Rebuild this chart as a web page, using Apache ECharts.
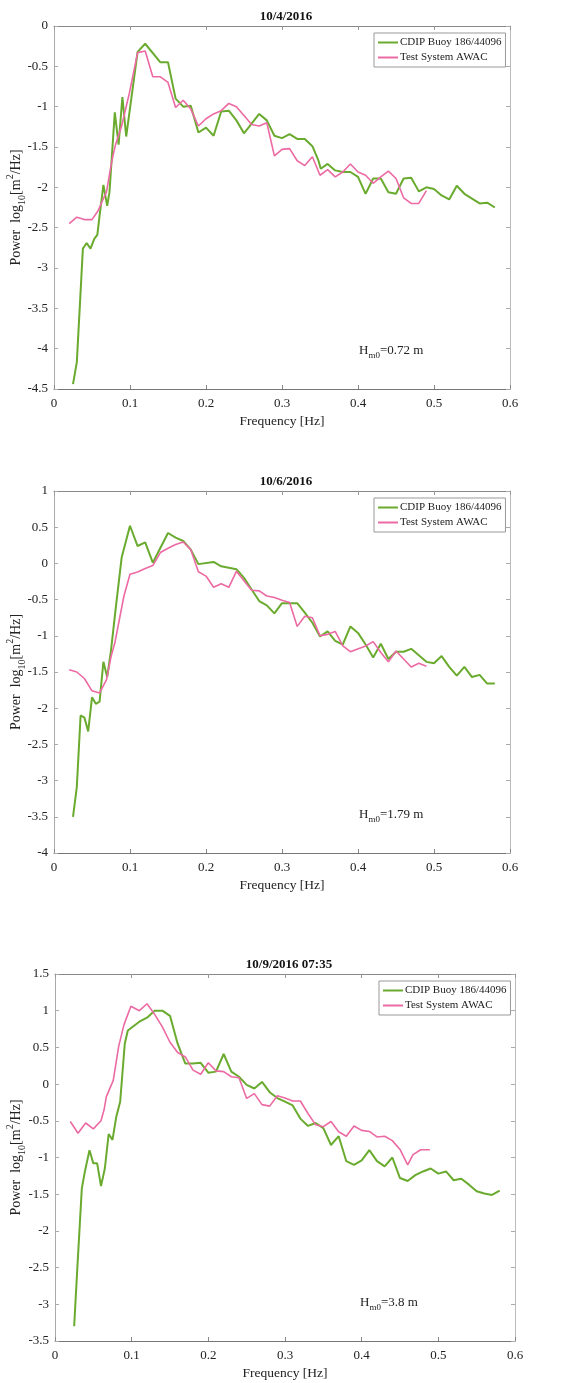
<!DOCTYPE html>
<html>
<head>
<meta charset="utf-8">
<script src="https://cdn.jsdelivr.net/npm/echarts@6/dist/echarts.min.js"></script>
<style>
  html, body { margin: 0; padding: 0; background: #fff; }
  #chart { width: 573px; height: 1383px; }
</style>
</head>
<body>
<div id="chart"></div>
<script>
// chart titles and wave height notes
const titles = ['10/4/2016', '10/6/2016', '10/9/2016 07:35'];
const hm0 = ['=0.72 m', '=1.79 m', '=3.8 m'];
const seriesNames = ['CDIP Buoy 186/44096', 'Test System AWAC'];
const yRanges = [[-4.5, 0], [-4, 1], [-3.5, 1.5]];

// 10/4/2016  [freq Hz, log10 power]
const buoy1 = [[0.025,-4.44],[0.03,-4.17],[0.034,-3.47],[0.038,-2.76],[0.043,-2.69],[0.048,-2.76],[0.053,-2.64],[0.057,-2.59],[0.06,-2.35],[0.065,-1.97],[0.07,-2.23],[0.073,-2.06],
  [0.08,-1.07],[0.085,-1.47],[0.09,-0.88],[0.095,-1.37],[0.11,-0.32],[0.12,-0.22],[0.14,-0.45],[0.15,-0.45],[0.16,-0.9],[0.17,-1.0],[0.18,-0.99],[0.19,-1.32],[0.2,-1.26],
  [0.21,-1.36],[0.22,-1.06],[0.23,-1.05],[0.24,-1.17],[0.25,-1.33],[0.27,-1.09],[0.28,-1.17],[0.29,-1.36],[0.3,-1.39],[0.31,-1.34],[0.32,-1.4],[0.33,-1.4],[0.34,-1.49],
  [0.348,-1.67],[0.351,-1.77],[0.36,-1.71],[0.37,-1.79],[0.38,-1.81],[0.39,-1.81],[0.4,-1.87],[0.41,-2.08],[0.42,-1.89],[0.43,-1.89],[0.44,-2.06],[0.45,-2.08],[0.46,-1.89],
  [0.47,-1.88],[0.48,-2.05],[0.49,-2.0],[0.5,-2.02],[0.51,-2.1],[0.52,-2.15],[0.53,-1.98],[0.54,-2.08],[0.55,-2.14],[0.56,-2.2],[0.57,-2.19],[0.58,-2.25]];
const awac1 = [[0.02,-2.45],[0.03,-2.37],[0.04,-2.4],[0.05,-2.4],[0.058,-2.29],[0.064,-2.16],[0.069,-2.06],[0.075,-1.73],[0.078,-1.59],[0.081,-1.47],[0.089,-1.24],[0.099,-0.84],
  [0.11,-0.33],[0.12,-0.31],[0.13,-0.63],[0.14,-0.63],[0.15,-0.7],[0.16,-1.01],[0.17,-0.92],[0.18,-1.03],[0.19,-1.24],[0.2,-1.15],[0.21,-1.09],[0.22,-1.05],[0.23,-0.96],
  [0.24,-1.0],[0.25,-1.11],[0.26,-1.22],[0.27,-1.24],[0.28,-1.2],[0.29,-1.61],[0.3,-1.53],[0.31,-1.52],[0.32,-1.67],[0.33,-1.73],[0.34,-1.62],[0.35,-1.85],[0.36,-1.78],
  [0.37,-1.87],[0.38,-1.81],[0.39,-1.71],[0.4,-1.81],[0.41,-1.85],[0.42,-1.95],[0.43,-1.87],[0.44,-1.8],[0.45,-1.89],[0.46,-2.13],[0.47,-2.2],[0.48,-2.2],[0.49,-2.04]];

// 10/6/2016
const buoy2 = [[0.025,-3.5],[0.03,-3.09],[0.035,-2.1],[0.04,-2.13],[0.045,-2.32],[0.05,-1.85],[0.055,-1.94],[0.06,-1.91],[0.065,-1.36],[0.07,-1.57],[0.075,-1.2],[0.081,-0.64],
  [0.089,0.08],[0.1,0.52],[0.11,0.24],[0.12,0.29],[0.13,0.01],[0.15,0.42],[0.16,0.355],[0.17,0.31],[0.18,0.19],[0.19,-0.01],[0.21,0.02],[0.22,-0.04],[0.24,-0.08],
  [0.25,-0.2],[0.26,-0.36],[0.27,-0.52],[0.28,-0.58],[0.29,-0.69],[0.3,-0.55],[0.32,-0.55],[0.33,-0.68],[0.34,-0.82],[0.35,-1.01],[0.36,-0.94],[0.37,-1.07],[0.38,-1.12],
  [0.39,-0.87],[0.4,-0.96],[0.41,-1.12],[0.42,-1.3],[0.43,-1.11],[0.44,-1.32],[0.45,-1.22],[0.46,-1.22],[0.47,-1.18],[0.48,-1.27],[0.49,-1.36],[0.5,-1.38],[0.51,-1.28],
  [0.52,-1.43],[0.53,-1.55],[0.54,-1.43],[0.55,-1.57],[0.56,-1.54],[0.57,-1.66],[0.58,-1.66]];
const awac2 = [[0.02,-1.47],[0.03,-1.5],[0.04,-1.59],[0.05,-1.76],[0.06,-1.79],[0.069,-1.61],[0.075,-1.29],[0.08,-1.1],[0.092,-0.45],[0.1,-0.15],[0.11,-0.12],[0.12,-0.07],
  [0.13,-0.03],[0.14,0.15],[0.15,0.21],[0.16,0.26],[0.17,0.295],[0.18,0.19],[0.19,-0.115],[0.2,-0.175],[0.21,-0.33],[0.22,-0.28],[0.23,-0.33],[0.24,-0.11],[0.25,-0.24],
  [0.26,-0.37],[0.27,-0.38],[0.28,-0.45],[0.29,-0.47],[0.3,-0.51],[0.31,-0.54],[0.32,-0.87],[0.33,-0.73],[0.34,-0.75],[0.35,-1.0],[0.36,-0.98],[0.37,-0.94],[0.38,-1.14],
  [0.39,-1.22],[0.41,-1.14],[0.42,-1.08],[0.43,-1.23],[0.44,-1.36],[0.45,-1.21],[0.46,-1.32],[0.47,-1.43],[0.48,-1.38],[0.49,-1.42]];

// 10/9/2016 07:35
const buoy3 = [[0.025,-3.3],[0.029,-2.53],[0.035,-1.42],[0.039,-1.19],[0.045,-0.9],[0.05,-1.08],[0.055,-1.08],[0.06,-1.39],[0.065,-1.15],[0.07,-0.68],[0.075,-0.76],[0.08,-0.44],
  [0.085,-0.24],[0.091,0.55],[0.095,0.73],[0.11,0.85],[0.12,0.905],[0.13,1.0],[0.14,1.0],[0.15,0.93],[0.16,0.55],[0.17,0.28],[0.18,0.28],[0.19,0.29],[0.2,0.155],
  [0.21,0.17],[0.22,0.41],[0.23,0.17],[0.24,0.1],[0.25,-0.01],[0.26,-0.06],[0.27,0.03],[0.28,-0.11],[0.29,-0.19],[0.3,-0.24],[0.31,-0.29],[0.32,-0.47],[0.33,-0.57],
  [0.34,-0.53],[0.35,-0.6],[0.36,-0.83],[0.37,-0.71],[0.38,-1.05],[0.39,-1.1],[0.4,-1.04],[0.41,-0.9],[0.42,-1.05],[0.43,-1.12],[0.44,-1.0],[0.45,-1.28],[0.46,-1.32],
  [0.47,-1.24],[0.48,-1.19],[0.49,-1.15],[0.5,-1.22],[0.51,-1.19],[0.52,-1.31],[0.53,-1.29],[0.54,-1.37],[0.55,-1.46],[0.56,-1.49],[0.57,-1.51],[0.58,-1.45]];
const awac3 = [[0.02,-0.51],[0.03,-0.67],[0.04,-0.53],[0.05,-0.61],[0.06,-0.5],[0.064,-0.35],[0.067,-0.17],[0.076,0.05],[0.083,0.51],[0.09,0.81],[0.099,1.06],[0.11,1.0],
  [0.12,1.095],[0.13,0.95],[0.14,0.78],[0.15,0.57],[0.16,0.43],[0.17,0.37],[0.18,0.19],[0.19,0.135],[0.2,0.29],[0.21,0.18],[0.22,0.17],[0.23,0.1],[0.24,0.086],
  [0.25,-0.195],[0.26,-0.13],[0.27,-0.28],[0.28,-0.3],[0.29,-0.16],[0.3,-0.19],[0.31,-0.23],[0.32,-0.23],[0.33,-0.4],[0.34,-0.555],[0.35,-0.58],[0.36,-0.51],[0.37,-0.65],
  [0.38,-0.71],[0.39,-0.57],[0.4,-0.63],[0.41,-0.645],[0.42,-0.72],[0.43,-0.71],[0.44,-0.77],[0.45,-0.89],[0.46,-1.1],[0.467,-0.96],[0.477,-0.895],[0.489,-0.895]];

const buoyData = [buoy1, buoy2, buoy3];
const awacData = [awac1, awac2, awac3];

const GREEN = '#6aab2f';
const PINK = '#ec6aa3';
const FONT = '"Liberation Serif", "DejaVu Serif", serif';

// panel boxes in page pixels
const panels = [
  { left: 54, top: 26, width: 456, height: 363 },
  { left: 54, top: 491, width: 456, height: 362 },
  { left: 55, top: 974, width: 460, height: 367 }
];

const grids = [], xAxes = [], yAxes = [], series = [], legends = [], titleList = [], graphics = [];

panels.forEach((p, i) => {
  grids.push({ left: p.left, top: p.top, width: p.width, height: p.height, show: false,
    containLabel: false, outerBoundsMode: 'none' });

  titleList.push({
    text: titles[i], left: p.left + p.width / 2 - 1, top: p.top - 21, textAlign: 'center',
    textStyle: { fontFamily: FONT, fontSize: 13, fontWeight: 'bold', color: '#111' }
  });

  xAxes.push({
    type: 'value', gridIndex: i, min: 0, max: 0.6, interval: 0.1, position: 'bottom',
    name: 'Frequency [Hz]', nameLocation: 'middle', nameGap: 25,
    nameTextStyle: { fontFamily: FONT, fontSize: 13.5, color: '#222' },
    axisLine: { onZero: false, lineStyle: { color: '#777', width: 1 } },
    axisTick: { inside: true, length: 4, lineStyle: { color: '#888' } },
    axisLabel: { fontFamily: FONT, fontSize: 13, color: '#222', margin: 8,
      formatter: v => String(Math.round(v * 10) / 10) },
    splitLine: { show: false }
  });
  xAxes.push({
    type: 'value', gridIndex: i, min: 0, max: 0.6, interval: 0.1, position: 'top',
    axisLine: { onZero: false, lineStyle: { color: '#888', width: 1 } },
    axisTick: { inside: true, length: 4, lineStyle: { color: '#999' } },
    axisLabel: { show: false }, splitLine: { show: false }
  });

  yAxes.push({
    type: 'value', gridIndex: i, min: yRanges[i][0], max: yRanges[i][1], interval: 0.5, position: 'left',
    axisLine: { show: true, onZero: false, lineStyle: { color: '#aaa', width: 1 } },
    axisTick: { show: true, inside: true, length: 4, lineStyle: { color: '#aaa' } },
    axisLabel: { fontFamily: FONT, fontSize: 13, color: '#222', margin: 6 },
    splitLine: { show: false }
  });
  yAxes.push({
    type: 'value', gridIndex: i, min: yRanges[i][0], max: yRanges[i][1], interval: 0.5, position: 'right',
    axisLine: { show: true, onZero: false, lineStyle: { color: '#bbb', width: 1 } },
    axisTick: { show: true, inside: true, length: 4, lineStyle: { color: '#aaa' } },
    axisLabel: { show: false }, splitLine: { show: false }
  });

  series.push({
    name: seriesNames[0], type: 'line', xAxisIndex: 2 * i, yAxisIndex: 2 * i,
    data: buoyData[i], showSymbol: false, symbol: 'none', z: 3,
    lineStyle: { color: GREEN, width: 2 }, itemStyle: { color: GREEN }
  });
  series.push({
    name: seriesNames[1], type: 'line', xAxisIndex: 2 * i, yAxisIndex: 2 * i,
    data: awacData[i], showSymbol: false, symbol: 'none', z: 4,
    lineStyle: { color: PINK, width: 1.6 }, itemStyle: { color: PINK }
  });

  legends.push({
    data: seriesNames, orient: 'vertical',
    left: p.left + p.width - 136, top: p.top + 7,
    icon: 'rect', itemWidth: 20, itemHeight: 2, itemGap: 4,
    padding: [4, 4, 4, 4], borderColor: '#999', borderWidth: 1, backgroundColor: '#fff',
    selectedMode: false,
    textStyle: { fontFamily: FONT, fontSize: 11, color: '#222', padding: [0, 0, 0, -3] }
  });

  // rotated y axis title
  graphics.push({
    type: 'text', x: 16, y: p.top + p.height / 2, rotation: Math.PI / 2,
    style: {
      text: 'Power  log{sub|10}[m{sup|2}/Hz]',
      font: '14px ' + FONT, fill: '#222', align: 'center', verticalAlign: 'middle',
      lineHeight: 22,
      rich: {
        sub: { fontSize: 10, fontFamily: FONT, fill: '#222', lineHeight: 10, verticalAlign: 'bottom' },
        sup: { fontSize: 10, fontFamily: FONT, fill: '#222', lineHeight: 10, verticalAlign: 'top' }
      }
    }
  });

  graphics.push({
    type: 'text', left: p.left + 305, top: p.top + p.height - 47,
    style: {
      text: 'H{sub|m0}' + hm0[i],
      font: '13px ' + FONT, fill: '#222',
      rich: { sub: { fontSize: 9, fontFamily: FONT, fill: '#222', lineHeight: 8, verticalAlign: 'bottom' } },
      lineHeight: 18
    }
  });
});

const chart = echarts.init(document.getElementById('chart'), null, { renderer: 'canvas' });
chart.setOption({
  backgroundColor: '#fff',
  animation: false,
  title: titleList,
  legend: legends,
  grid: grids,
  xAxis: xAxes,
  yAxis: yAxes,
  series: series,
  graphic: graphics
});
</script>
</body>
</html>
